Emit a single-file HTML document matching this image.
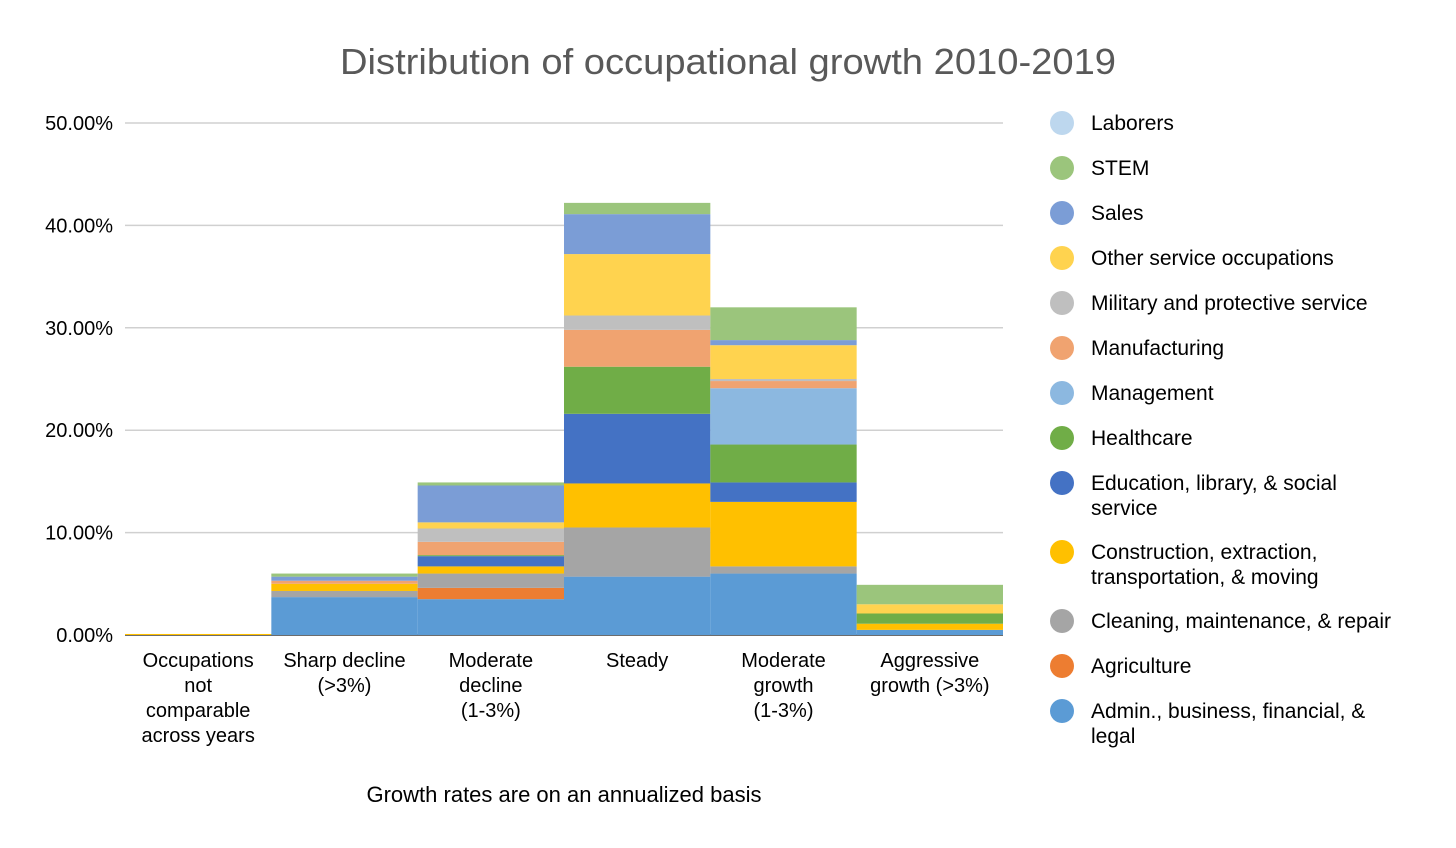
<!DOCTYPE html>
<html><head><meta charset="utf-8"><style>
html,body{margin:0;padding:0;background:#fff;}
svg{display:block;font-family:"Liberation Sans",sans-serif;}
</style></head><body>
<svg id="chart" width="1456" height="848" viewBox="0 0 1456 848">
<text x="340" y="74" font-size="36" fill="#595959" textLength="776" lengthAdjust="spacingAndGlyphs">Distribution of occupational growth 2010-2019</text>
<g id="grid"></g>
<g id="bars"></g>
<g id="xlabels"></g>
<g id="legend"></g>
<text x="564" y="802" text-anchor="middle" font-size="22" fill="#000">Growth rates are on an annualized basis</text>
</svg>
<script>
const categories=[["Occupations","not","comparable","across years"],["Sharp decline","(>3%)"],["Moderate","decline","(1-3%)"],["Steady"],["Moderate","growth","(1-3%)"],["Aggressive","growth (>3%)"]];
const seriesNames=["Admin., business, financial, & legal","Agriculture","Cleaning, maintenance, & repair","Construction, extraction, transportation, & moving","Education, library, & social service","Healthcare","Management","Manufacturing","Military and protective service","Other service occupations","Sales","STEM","Laborers"];
const seriesColors=["#5b9bd5","#ed7d31","#a5a5a5","#ffc000","#4472c4","#70ad47","#8cb8e0","#f0a370","#bfbfbf","#ffd34f","#7b9dd6","#9bc57c","#bdd7ee"];
const admin=[0,3.7,3.5,5.7,6.0,0.5];
const agriculture=[0,0,1.1,0,0,0];
const cleaning=[0,0.6,1.4,4.8,0.7,0];
const construction=[0.1,0.7,0.7,4.3,6.3,0.6];
const education=[0,0,1.0,6.8,1.9,0];
const healthcare=[0,0,0.1,4.6,3.7,1.0];
const management=[0,0,0,0,5.5,0];
const manufacturing=[0,0.3,1.3,3.6,0.7,0];
const military=[0,0,1.3,1.4,0.2,0];
const otherService=[0,0,0.6,6.0,3.3,0.9];
const sales=[0,0.4,3.6,3.9,0.5,0];
const stem=[0,0.3,0.3,1.1,3.2,1.9];
const laborers=[0,0,0,0,0,0];
const series=[admin,agriculture,cleaning,construction,education,healthcare,management,manufacturing,military,otherService,sales,stem,laborers];
const yTicks=[0,10,20,30,40,50];
const yTickLabels=["0.00%","10.00%","20.00%","30.00%","40.00%","50.00%"];
const legendOrder=[12,11,10,9,8,7,6,5,4,3,2,1,0];
const legendLabels=[["Laborers"],["STEM"],["Sales"],["Other service occupations"],["Military and protective service"],["Manufacturing"],["Management"],["Healthcare"],["Education, library, & social","service"],["Construction, extraction,","transportation, & moving"],["Cleaning, maintenance, & repair"],["Agriculture"],["Admin., business, financial, &","legal"]];

const NS="http://www.w3.org/2000/svg";
const X0=125,X1=1003,Y0=635,Y50=123;
const bw=(X1-X0)/categories.length;
const y=v=>Y0-(v/50)*(Y0-Y50);
const x=i=>X0+i*bw;
function mk(tag,attrs,parent){const e=document.createElementNS(NS,tag);for(const k in attrs)e.setAttribute(k,attrs[k]);parent.appendChild(e);return e;}
const grid=document.getElementById('grid');
yTicks.forEach((t,i)=>{
  const l=mk('line',{x1:X0,x2:X1,y1:y(t),y2:y(t),stroke:'#d0d0d0','stroke-width':1.5},grid);
  
  
  const tx=mk('text',{x:113,y:y(t)+7,'text-anchor':'end','font-size':20,fill:'#000'},grid);
  tx.textContent=yTickLabels[i];
  
  
});
const bars=document.getElementById('bars');
categories.forEach((c,ci)=>{
  let base=0;
  series.forEach((s,si)=>{
    const v=s[ci];
    if(v>0){
      const r=mk('rect',{x:x(ci),y:y(base+v),width:bw,height:y(base)-y(base+v),fill:seriesColors[si]},bars);
      
      
    }
    base+=v;
  });
});
const ax=mk('line',{x1:X0,x2:X1,y1:Y0,y2:Y0,stroke:'#444','stroke-width':1.5},grid);


const xl=document.getElementById('xlabels');
categories.forEach((c,ci)=>{
  c.forEach((line,li)=>{
    const t=mk('text',{x:x(ci)+bw/2,y:667+li*25,'text-anchor':'middle','font-size':20,fill:'#000'},xl);
    t.textContent=line;
    
    
  });
});
const lg=document.getElementById('legend');
let ly=123;
legendOrder.forEach((si,i)=>{
  const c=mk('circle',{cx:1062,cy:ly,r:12,fill:seriesColors[si]},lg);
  
  
  legendLabels[i].forEach((line,li)=>{
    const t=mk('text',{x:1091,y:ly+7+li*25,'font-size':21,fill:'#000'},lg);
    t.textContent=line;
    
    
  });
  ly+=45+(legendLabels[i].length-1)*24;
});
</script>
</body></html>
